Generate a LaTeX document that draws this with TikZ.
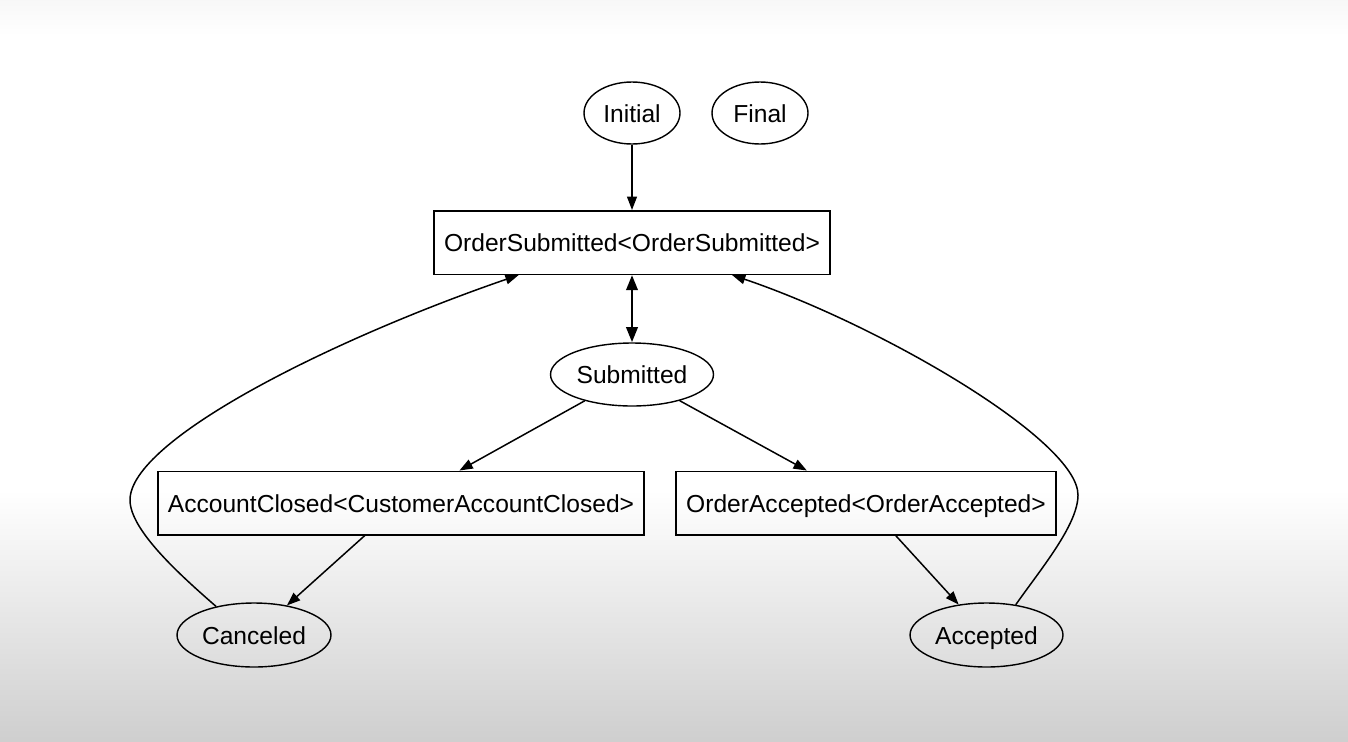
\documentclass[tikz,border=0pt]{standalone}
\usepackage{fontspec}
\setmainfont{Liberation Sans}
\usetikzlibrary{arrows.meta,shapes.geometric}

\begin{document}
\begin{tikzpicture}[x=0.02cm,y=-0.02cm,
  every node/.style={font=\fontsize{14}{17}\selectfont,text height=12.5pt,text depth=2pt},
  state/.style={draw,ellipse,inner sep=0pt,line width=0.8pt},
  event/.style={draw,rectangle,inner sep=0pt,line width=0.85pt,minimum height=1.27cm},
  trans/.style={line width=0.85pt,-{Triangle[length=7.6pt,width=5.6pt]}},
  twoway/.style={line width=1.6pt,{Triangle[length=8.6pt,width=6.4pt]}-{Triangle[length=8.6pt,width=6.4pt]}}]
\useasboundingbox (0,0) rectangle (1348,741);
\fill[white] (0,0) rectangle (1348,741);
\shade[top color=black!3,bottom color=white] (0,0) rectangle (1348,36);
\shade[top color=white,bottom color=black!19] (0,490) rectangle (1348,741);

\node[state,minimum width=1.92cm,minimum height=1.24cm] (initial) at (632,113) {Initial};
\node[state,minimum width=1.92cm,minimum height=1.24cm] (final) at (760,113) {Final};
\node[event,minimum width=7.92cm] (ordersub) at (632,242.5) {OrderSubmitted<OrderSubmitted>};
\node[state,minimum width=3.26cm,minimum height=1.26cm] (submitted) at (632,374.5) {Submitted};
\node[event,minimum width=9.72cm] (closed) at (401,503) {AccountClosed<CustomerAccountClosed>};
\node[event,minimum width=7.6cm] (orderacc) at (866,503) {OrderAccepted<OrderAccepted>};
\node[state,minimum width=3.08cm,minimum height=1.28cm] (canceled) at (254,635) {Canceled};
\node[state,minimum width=3.06cm,minimum height=1.28cm] (accepted) at (986.5,635) {Accepted};

\draw[trans] (initial) -- (ordersub);
\draw[twoway] (ordersub) -- (submitted);
\draw[trans] (submitted) -- (closed);
\draw[trans] (submitted) -- (orderacc);
\draw[trans] (closed) -- (canceled);
\draw[trans] (orderacc) -- (accepted);
\draw[trans] (canceled.143) .. controls (180,575) and (130,530) .. (130,500)
  .. controls (130,440) and (330,340) .. (ordersub.196);
\draw[trans] (accepted.46) .. controls (1040,570) and (1078,525) .. (1078,495)
  .. controls (1078,440) and (880,325) .. (ordersub.-18);
\end{tikzpicture}
\end{document}
